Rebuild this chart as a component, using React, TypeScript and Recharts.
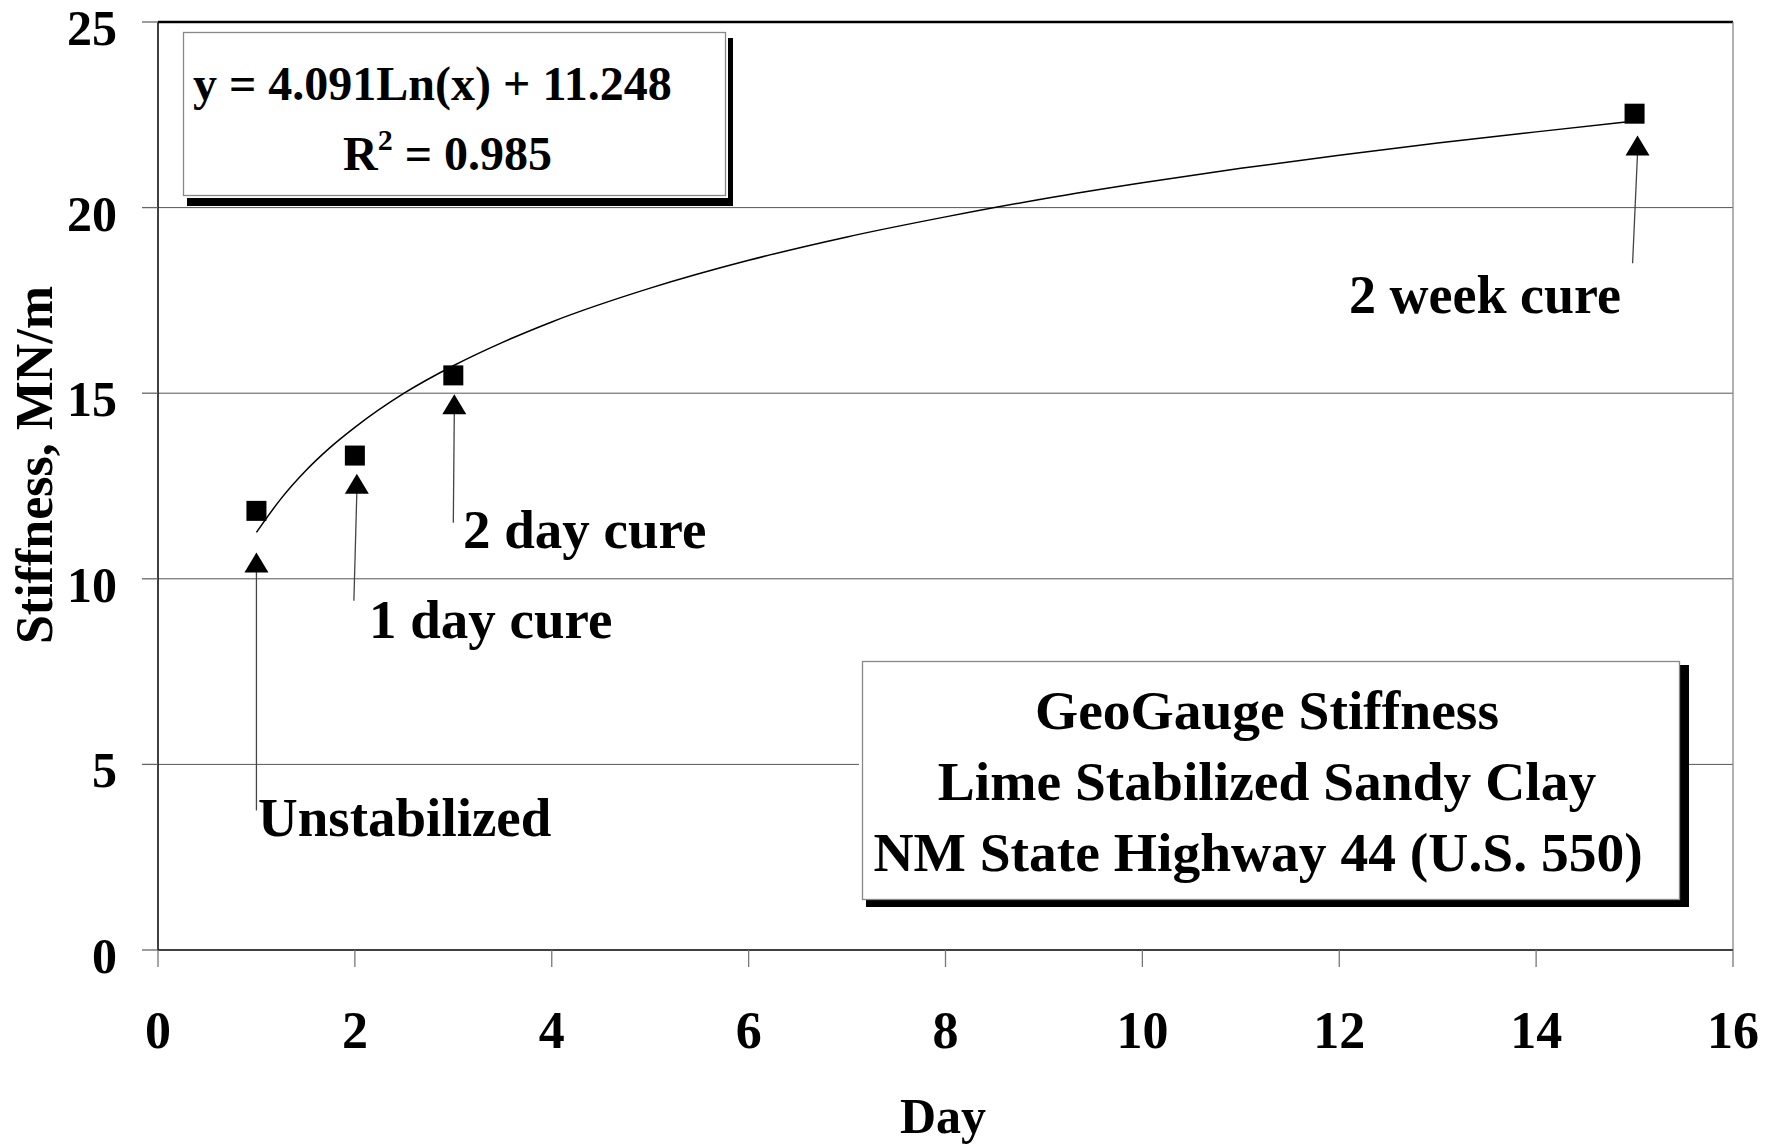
import React from "react";
import {
  ComposedChart,
  Line,
  Scatter,
  XAxis,
  YAxis,
  CartesianGrid,
  ReferenceLine,
} from "recharts";

// measured GeoGauge stiffness (MN/m) by day
const days = [1, 2, 3, 15];
const stiffness = [11.83, 13.32, 15.48, 22.53];

// log trendline
const trendDays = [1, 1.25, 1.5, 1.75, 2, 2.5, 3, 3.5, 4, 5, 6, 7, 8, 9, 10, 11, 12, 13, 14, 15];
const trendStiffness = [
  11.25, 12.16, 12.91, 13.54, 14.08, 15.0, 15.74, 16.37, 16.92, 17.83, 18.58, 19.21, 19.75,
  20.24, 20.67, 21.06, 21.41, 21.74, 22.04, 22.33,
];

const xTicks = [0, 2, 4, 6, 8, 10, 12, 14, 16];
const yTicks = [0, 5, 10, 15, 20, 25];

// annotation arrows (tail -> tip), in data units
const arrowTailX = [1.0, 1.99, 3.0, 14.98];
const arrowTailY = [3.76, 9.41, 11.51, 18.5];
const arrowTipX = [1.0, 2.02, 3.01, 15.03];
const arrowTipY = [10.71, 12.83, 14.97, 21.94];

const measured = days.map((x, i) => ({ x, y: stiffness[i] }));
const trend = trendDays.map((x, i) => ({ x, y: trendStiffness[i] }));
const arrows = arrowTailX.map((x, i) => ({
  x1: x,
  y1: arrowTailY[i],
  x2: arrowTipX[i],
  y2: arrowTipY[i],
}));

const FONT = "'Liberation Serif', 'Times New Roman', serif";

const SquareDot = (props: any) => {
  const { cx, cy } = props;
  if (cx == null || cy == null) return null;
  return <rect x={cx - 10} y={cy - 10} width={20} height={20} fill="#000" />;
};

const Arrow = (props: any) => {
  const { x1, y1, x2, y2 } = props;
  if (x1 == null) return null;
  return (
    <g>
      <line x1={x1} y1={y1} x2={x2} y2={y2 + 18} stroke="#444" strokeWidth={1.3} />
      <polygon points={`${x2},${y2} ${x2 - 12},${y2 + 20} ${x2 + 12},${y2 + 20}`} fill="#000" />
    </g>
  );
};

const XTick = ({ x, y, payload }: any) => (
  <text x={x} y={y} dy={81} textAnchor="middle" fontFamily={FONT} fontWeight="bold" fontSize={52} fill="#000">
    {payload.value}
  </text>
);

const YTick = ({ x, y, payload }: any) => (
  <text x={x} y={y} dy={23} textAnchor="end" fontFamily={FONT} fontWeight="bold" fontSize={50} fill="#000">
    {payload.value}
  </text>
);

const txt = { fontFamily: FONT, fontWeight: "bold" as const, fill: "#000" };

export default function App() {
  return (
    <div style={{ position: "absolute", left: 0, top: 0, width: 1780, height: 1147, background: "#fff" }}>
      <ComposedChart width={1780} height={1147} margin={{ top: 22, right: 47, bottom: 0, left: 0 }}>
        <CartesianGrid vertical={false} stroke="#555" strokeWidth={1} horizontalValues={[5, 10, 15, 20]} />
        <XAxis
          type="number"
          dataKey="x"
          domain={[0, 16]}
          ticks={xTicks}
          height={197}
          tickSize={17}
          tickMargin={0}
          tick={<XTick />}
          tickLine={{ stroke: "#777", strokeWidth: 1.3 }}
          axisLine={{ stroke: "#000", strokeWidth: 1.5 }}
          allowDataOverflow
        />
        <YAxis
          type="number"
          domain={[0, 25]}
          ticks={yTicks}
          width={158}
          tickSize={16}
          tickMargin={25}
          tick={<YTick />}
          tickLine={{ stroke: "#666", strokeWidth: 1.3 }}
          axisLine={{ stroke: "#000", strokeWidth: 1.5 }}
          allowDataOverflow
        />
        <ReferenceLine y={25} stroke="#000" strokeWidth={2.5} />
        <ReferenceLine x={16} stroke="#888" strokeWidth={1.3} />
        {arrows.map((a, i) => (
          <ReferenceLine
            key={i}
            segment={[
              { x: a.x1, y: a.y1 },
              { x: a.x2, y: a.y2 },
            ]}
            shape={<Arrow />}
            ifOverflow="visible"
          />
        ))}
        <Line
          data={trend}
          dataKey="y"
          type="monotone"
          stroke="#000"
          strokeWidth={1.5}
          dot={false}
          activeDot={false}
          isAnimationActive={false}
        />
        <Scatter data={measured} dataKey="y" shape={<SquareDot />} isAnimationActive={false} />
      </ComposedChart>

      <svg
        width={1780}
        height={1147}
        style={{ position: "absolute", left: 0, top: 0, pointerEvents: "none" }}
      >
        {/* equation box */}
        <rect x={187} y={38} width={546} height={168} fill="#000" />
        <rect x={180} y={29} width={548} height={169} fill="#fff" />
        <rect x={183.5} y={32.5} width={542} height={163} fill="#fff" stroke="#888" strokeWidth={1.3} />
        <text x={193} y={100} fontSize={48} {...txt}>
          y = 4.091Ln(x) + 11.248
        </text>
        <text x={343} y={170} fontSize={48} {...txt}>
          R<tspan fontSize={30} dy={-20}>2</tspan>
          <tspan dy={20}> = 0.985</tspan>
        </text>

        {/* legend box */}
        <rect x={866} y={665} width={823} height={242} fill="#000" />
        <rect x={859} y={658} width={821} height={242} fill="#fff" />
        <rect x={862.5} y={661.5} width={817} height={238} fill="#fff" stroke="#888" strokeWidth={1.3} />
        <text x={1267} y={729} fontSize={55.5} textAnchor="middle" {...txt}>
          GeoGauge Stiffness
        </text>
        <text x={1267} y={800} fontSize={55.5} textAnchor="middle" {...txt}>
          Lime Stabilized Sandy Clay
        </text>
        <text x={1258} y={871} fontSize={55.5} textAnchor="middle" {...txt}>
          NM State Highway 44 (U.S. 550)
        </text>

        {/* annotations */}
        <text x={258} y={836} fontSize={55} {...txt}>Unstabilized</text>
        <text x={369} y={638} fontSize={55} {...txt}>1 day cure</text>
        <text x={463} y={548} fontSize={55} {...txt}>2 day cure</text>
        <text x={1349} y={313} fontSize={54} {...txt}>2 week cure</text>

        {/* axis titles */}
        <text
          x={52}
          y={465}
          fontSize={52}
          textAnchor="middle"
          transform="rotate(-90 52 465)"
          {...txt}
        >
          Stiffness, MN/m
        </text>
        <text x={943} y={1133} fontSize={50} textAnchor="middle" {...txt}>
          Day
        </text>
      </svg>
    </div>
  );
}
